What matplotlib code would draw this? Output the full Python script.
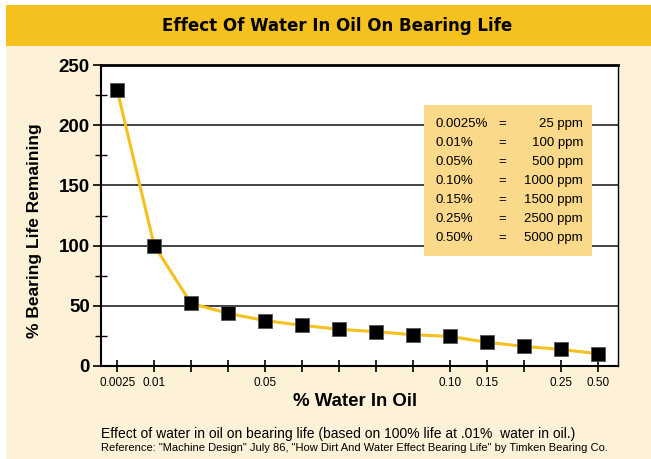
import numpy as np
import matplotlib.pyplot as plt
from matplotlib.patches import Rectangle

# data
water_pct = ['0.0025', '0.01', '', '', '0.05', '', '', '', '', '0.10', '0.15', '', '0.25', '0.50']
life_remaining = [229, 100, 52, 43.7, 37.7, 33.8, 30.5, 28.5, 26, 24.6, 19.7, 16.3, 13.8, 10.2]

conv_pct = ['0.0025%', '0.01%', '0.05%', '0.10%', '0.15%', '0.25%', '0.50%']
conv_ppm = ['25 ppm', '100 ppm', '500 ppm', '1000 ppm', '1500 ppm', '2500 ppm', '5000 ppm']

title = 'Effect Of Water In Oil On Bearing Life'
note1 = 'Effect of water in oil on bearing life (based on 100% life at .01%  water in oil.)'
note2 = ('Reference: "Machine Design" July 86, "How Dirt And Water Effect Bearing Life" '
         'by Timken Bearing Co.')

gold = '#f4c11f'
cream = '#fdf1d8'
box_col = '#fad98a'

plt.rcParams['font.family'] = ['Liberation Sans', 'DejaVu Sans']

W, H = 651, 459
fig = plt.figure(figsize=(W / 100, H / 100), dpi=100)
fig.patch.set_facecolor('white')


def fx(px):
    return px / W


def fy(py):
    return 1 - py / H


# background panel and title band
fig.patches.append(Rectangle((fx(6), 0), 1 - fx(6), fy(5), transform=fig.transFigure,
                             facecolor=cream, edgecolor='none', zorder=-10))
fig.patches.append(Rectangle((fx(6), fy(46)), 1 - fx(6), fy(5) - fy(46), transform=fig.transFigure,
                             facecolor=gold, edgecolor='none', zorder=-10))
fig.text(fx(337), fy(26), title, ha='center', va='center', fontsize=13.3, fontweight='bold',
         family='DejaVu Sans', fontstretch='condensed')

ax = fig.add_axes([fx(101), fy(366), fx(618) - fx(101), fy(65) - fy(366)])
ax.set_facecolor('white')

x = np.arange(len(life_remaining))
ax.plot(x, life_remaining, color=gold, lw=2.2, zorder=3)
ax.plot(x, life_remaining, 's', color='black', ms=9.5, mec='#555555', mew=0.6, zorder=4)

ax.set_xlim(-0.44, 13.55)
ax.set_ylim(0, 250)
ax.set_yticks([0, 50, 100, 150, 200, 250])
ax.set_yticks([25, 75, 125, 175, 225], minor=True)
ax.set_xticks(x)
ax.set_xticklabels(water_pct, fontsize=8.5)
ax.tick_params(axis='y', which='major', direction='out', length=6, width=1.2,
               labelsize=13.5, pad=2)
for lab in ax.get_yticklabels():
    lab.set_fontweight('bold')
ax.tick_params(axis='y', which='minor', direction='inout', length=9, width=1.0)
ax.tick_params(axis='x', direction='inout', length=8, width=1.2, pad=4)
ax.grid(axis='y', which='major', color='#222222', lw=1.2)
ax.set_axisbelow(True)

for s in ['left', 'bottom']:
    ax.spines[s].set_linewidth(1.5)
ax.spines['top'].set_linewidth(2.0)
ax.spines['right'].set_linewidth(1.0)

fig.text(fx(35), fy(231), '% Bearing Life Remaining', rotation=90, ha='center', va='center',
         fontsize=12.5, fontweight='bold')
fig.text(fx(355), fy(401), '% Water In Oil', ha='center', va='center',
         fontsize=13.4, fontweight='bold')

# conversion table box
fig.patches.append(Rectangle((fx(424), fy(256)), fx(592) - fx(424), fy(105) - fy(256),
                             transform=fig.transFigure, facecolor=box_col, edgecolor='none',
                             zorder=5))
for i in range(len(conv_pct)):
    yy = fy(124 + 19 * i)
    fig.text(fx(436), yy, conv_pct[i], ha='left', va='center', fontsize=9.5, zorder=6)
    fig.text(fx(502), yy, '=', ha='center', va='center', fontsize=9.5, zorder=6)
    fig.text(fx(583), yy, conv_ppm[i], ha='right', va='center', fontsize=9.5, zorder=6)

fig.text(fx(101), fy(434), note1, ha='left', va='center', fontsize=10)
fig.text(fx(101), fy(448), note2, ha='left', va='center', fontsize=8)

fig.savefig('out.png', dpi=100, facecolor=fig.get_facecolor())
